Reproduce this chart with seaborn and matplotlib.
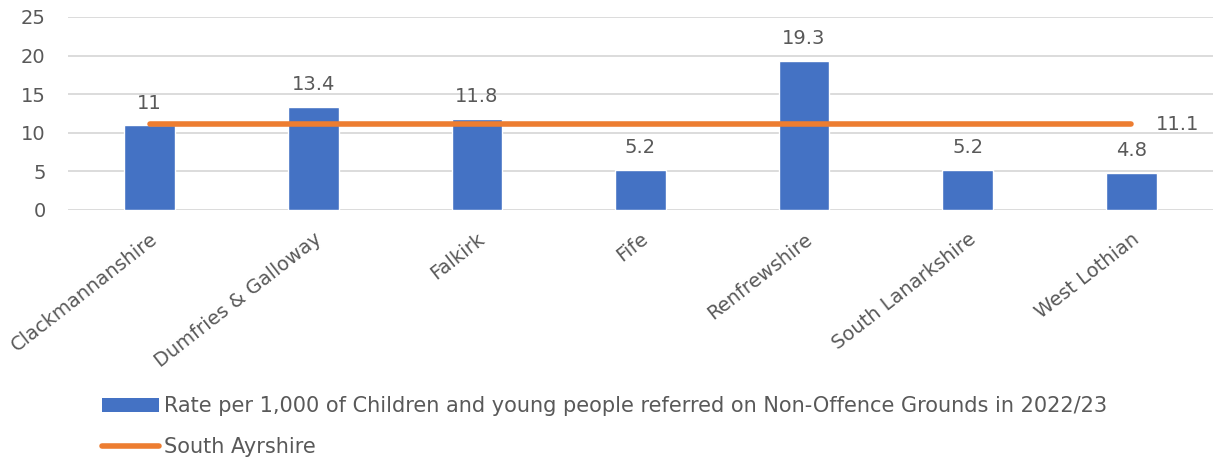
import matplotlib
matplotlib.use("Agg")
import matplotlib.pyplot as plt
import seaborn as sns
import pandas as pd
from matplotlib.patches import Patch
from matplotlib.lines import Line2D

categories = ["Clackmannanshire", "Dumfries & Galloway", "Falkirk", "Fife",
              "Renfrewshire", "South Lanarkshire", "West Lothian"]
rates = [11, 13.4, 11.8, 5.2, 19.3, 5.2, 4.8]
south_ayrshire = [11.1] * 7
bar_labels = ["11", "13.4", "11.8", "5.2", "19.3", "5.2", "4.8"]
bar_name = "Rate per 1,000 of Children and young people referred on Non-Offence Grounds in 2022/23"
line_name = "South Ayrshire"

sns.set_theme(style="white")
plt.rcParams['font.family'] = ['DejaVu Sans']

BLUE = "#4472C4"
ORANGE = "#ED7D31"
GREY = "#595959"
FS = 14

df = pd.DataFrame({"cat": categories, "rate": rates})

fig = plt.figure(figsize=(12.13, 4.59), dpi=100)
ax = fig.add_axes([0.056, 0.5425, 0.944, 0.4205])

sns.barplot(data=df, x="cat", y="rate", color=BLUE, width=0.31, ax=ax,
            saturation=1, zorder=2)
ax.plot(range(len(categories)), south_ayrshire, color=ORANGE, lw=4,
        solid_capstyle="round", zorder=3)

ax.set_ylim(0, 25)
ax.set_xlim(-0.5, len(categories) - 0.5)
ax.set_yticks([0, 5, 10, 15, 20, 25])
ax.yaxis.grid(True, color="#d9d9d9", lw=1.3, zorder=0)
ax.set_axisbelow(True)
for s in ax.spines.values():
    s.set_visible(False)
ax.set_xlabel("")
ax.set_ylabel("")
ax.tick_params(axis="both", length=0, colors=GREY, labelsize=FS)
ax.tick_params(axis="y", pad=16)
ax.set_xticks(range(len(categories)))
ax.set_xticklabels(categories, rotation=38, ha="right", rotation_mode="anchor",
                   color=GREY, fontsize=FS)
ax.tick_params(axis="x", pad=14)

for i, (v, lab) in enumerate(zip(rates, bar_labels)):
    ax.annotate(lab, (i, v), xytext=(0, 9), textcoords="offset points",
                ha="center", va="bottom", color=GREY, fontsize=FS)
ax.annotate(f"{south_ayrshire[-1]:g}", (len(categories) - 1, south_ayrshire[-1]),
            xytext=(18, 0), textcoords="offset points", ha="left", va="center",
            color=GREY, fontsize=FS)

handles = [Patch(facecolor=BLUE, edgecolor="none"),
           Line2D([0], [0], color=ORANGE, lw=4, solid_capstyle="round")]
fig.legend(handles, [bar_name, line_name], loc="lower left",
           bbox_to_anchor=(0.072, -0.028), frameon=False, fontsize=15,
           labelcolor=GREY, handlelength=2.75, handletextpad=0.25,
           labelspacing=1.0, borderaxespad=0.3)

fig.savefig("out.png", dpi=100)
